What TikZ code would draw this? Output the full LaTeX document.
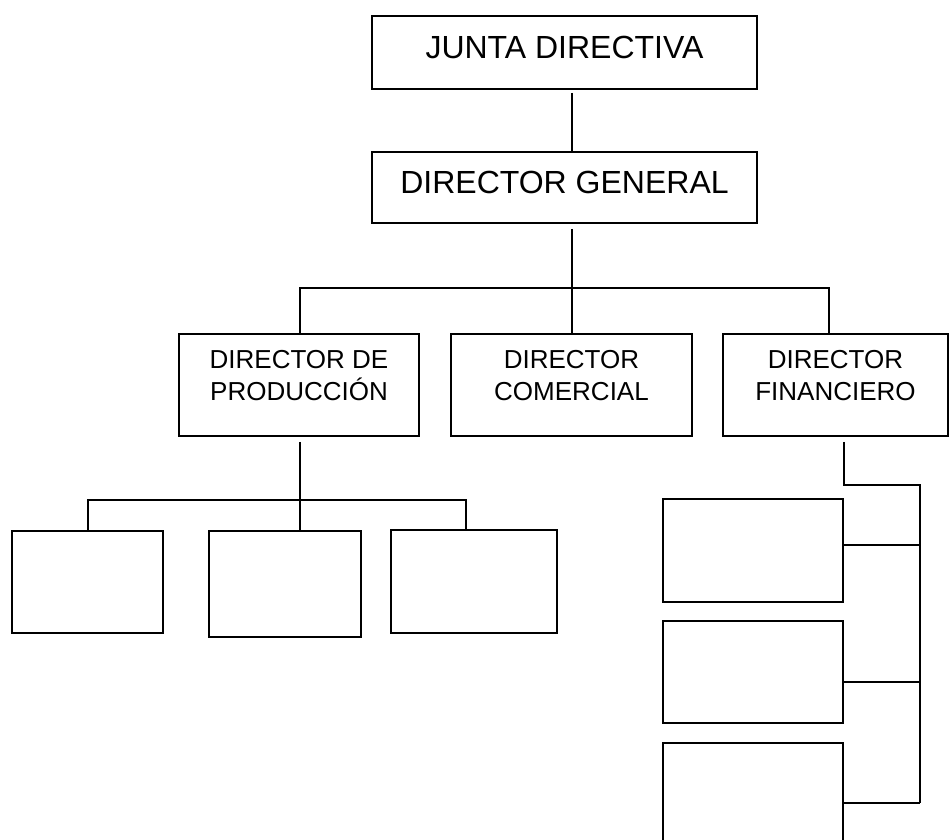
\documentclass[tikz,border=0pt]{standalone}
\usepackage{fontspec}
\setmainfont{Liberation Sans}
\begin{document}
\begin{tikzpicture}[x=1pt,y=-1pt,
    box/.style={draw,line width=1.8pt,rectangle,inner sep=0pt},
    big/.style={font=\fontsize{32}{36}\selectfont,text depth=11pt},
    small/.style={font=\fontsize{26}{31.7}\selectfont,align=center,inner sep=0pt,anchor=north},
    link/.style={line width=1.8pt}]
                \useasboundingbox (0,0) rectangle (950,840);
                \clip (0,0) rectangle (950,840);
                % top
                \node[box,big,minimum width=385pt,minimum height=73pt] (jd) at (564.5,52.5) {JUNTA DIRECTIVA};
                \node[box,big,minimum width=385pt,minimum height=71pt] (dg) at (564.5,187.5) {DIRECTOR GENERAL};
                % directors
                \node[box,minimum width=240pt,minimum height=102pt] (prod) at (299,385) {};
                \node[box,minimum width=241pt,minimum height=102pt] (com) at (571.5,385) {};
                \node[box,minimum width=225pt,minimum height=102pt] (fin) at (835.5,385) {};
                \node[small] (prodtxt) at ([yshift=-17pt]prod.north) {DIRECTOR DE\\PRODUCCIÓN};
                \node[small] (comtxt) at ([yshift=-17pt]com.north) {DIRECTOR\\COMERCIAL};
                \node[small] (fintxt) at ([yshift=-17pt]fin.north) {DIRECTOR\\FINANCIERO};
                % empty boxes
                \node[box,minimum width=151pt,minimum height=102pt] (p1) at (87.5,582) {};
                \node[box,minimum width=152pt,minimum height=106pt] (p2) at (285,584) {};
                \node[box,minimum width=166pt,minimum height=103pt] (p3) at (474,581.5) {};
                \node[box,minimum width=180pt,minimum height=103pt] (f1) at (753,550.5) {};
                \node[box,minimum width=180pt,minimum height=102pt] (f2) at (753,672) {};
                \node[box,minimum width=180pt,minimum height=102pt] (f3) at (753,794) {};
                % lines
                \coordinate (bus) at (572,288);
                \coordinate (finx) at (829,288);
                \draw[link,shorten <=3pt] (jd.south -| bus) -- (dg.north -| bus);
                \draw[link,shorten <=5pt] (dg.south -| bus) -- (bus);
                \draw[link] (prod.north -| 300,0) |- (finx) -- (fin.north -| finx);
                \draw[link] (bus) -- (com.north -| bus);
                \coordinate (pl) at (88,500);
                \coordinate (pr) at (466,500);
                \draw[link,shorten <=5pt] (prod.south -| 300,0) -- (p2.north -| 300,0);
                \draw[link] (p1.north -| pl) -- (pl) -- (pr) -- (p3.north -| pr);
                \coordinate (fdrop) at (844,485);
                \coordinate (fbus) at (920,485);
                \coordinate (s1) at (920,545);
                \coordinate (s2) at (920,682);
                \coordinate (s3) at (920,803);
                \draw[link,shorten <=5pt] (fin.south -| fdrop) -- (fdrop) -- (fbus) -- (s3);
                \draw[link] (f1.east |- s1) -- (s1);
                \draw[link] (f2.east |- s2) -- (s2);
                \draw[link] (f3.east |- s3) -- (s3);
            \end{tikzpicture}
\end{document}
